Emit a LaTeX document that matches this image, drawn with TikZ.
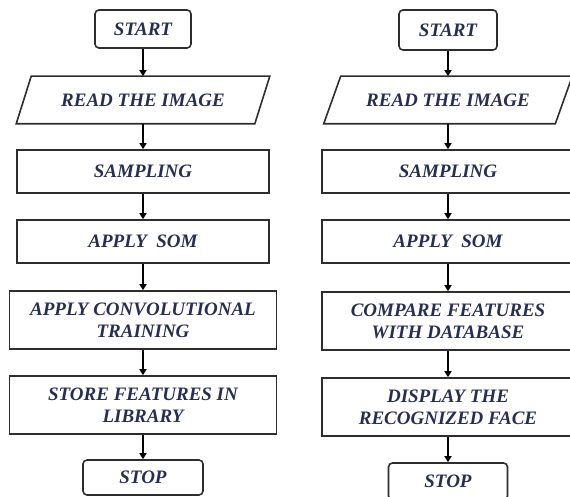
\documentclass[tikz,border=0pt]{standalone}
\usepackage{fontspec}
\setmainfont{Liberation Serif}
\usetikzlibrary{arrows.meta,calc}
\definecolor{txt}{RGB}{38,46,82}
\definecolor{ln}{RGB}{45,45,45}
\begin{document}
\begin{tikzpicture}[x=1pt,y=-1pt,
  box/.style={draw=ln, line width=1.6pt, text=txt,
    font=\fontsize{19}{22}\selectfont\bfseries\itshape, align=center, inner sep=0pt},
  term/.style={box, rounded corners=4pt},
  io/.style={box, draw=none},
  arr/.style={draw=black, line width=1.4pt, -{Triangle[length=6pt,width=7pt]}},
  para/.style={draw=ln, line width=1.6pt, line join=miter}]
\clip (0,0) rectangle (570,497);
% ---------- left column ----------
\node[term, minimum width=96, minimum height=38] (ls) at (143,29) {START};
\node[io, minimum width=237, minimum height=46] (lr) at (143,100) {READ THE IMAGE};
\draw[para] ($(lr.north west)+(7.5,0)$) -- ($(lr.north east)+(7.5,0)$)
  -- ($(lr.south east)+(-7.5,0)$) -- ($(lr.south west)+(-7.5,0)$) -- cycle;
\node[box, minimum width=252, minimum height=43] (lsa) at (143,171.5) {SAMPLING};
\node[box, minimum width=252, minimum height=43] (lso) at (143,241.5) {APPLY\ \ SOM};
\node[box, minimum width=267, minimum height=58] (lc) at (143,320) {APPLY CONVOLUTIONAL\\TRAINING};
\node[box, minimum width=267, minimum height=58] (lst) at (143,405) {STORE FEATURES IN\\LIBRARY};
\node[term, minimum width=120, minimum height=35] (le) at (143,477.5) {STOP};
\draw[arr] (ls) -- (lr);
\draw[arr] (lr) -- (lsa);
\draw[arr] (lsa) -- (lso);
\draw[arr] (lso) -- (lc);
\draw[arr] (lc) -- (lst);
\draw[arr] (lst) -- (le);
% ---------- right column ----------
\node[term, minimum width=98, minimum height=40] (rs) at (448,30) {START};
\node[io, minimum width=230, minimum height=46] (rr) at (448,100) {READ THE IMAGE};
\draw[para] ($(rr.north west)+(8.5,0)$) -- ($(rr.north east)+(8.5,0)$)
  -- ($(rr.south east)+(-8.5,0)$) -- ($(rr.south west)+(-8.5,0)$) -- cycle;
\node[box, minimum width=252, minimum height=43] (rsa) at (448,171.5) {SAMPLING};
\node[box, minimum width=252, minimum height=43] (rso) at (448,241.5) {APPLY\ \ SOM};
\node[box, minimum width=252, minimum height=58] (rc) at (448,321) {COMPARE FEATURES\\WITH DATABASE};
\node[box, minimum width=252, minimum height=58] (rd) at (448,407) {DISPLAY THE\\RECOGNIZED FACE};
\node[term, minimum width=119, minimum height=37] (re) at (448,481.5) {STOP};
\draw[arr] (rs) -- (rr);
\draw[arr] (rr) -- (rsa);
\draw[arr] (rsa) -- (rso);
\draw[arr] (rso) -- (rc);
\draw[arr] (rc) -- (rd);
\draw[arr] (rd) -- (re);
\end{tikzpicture}
\end{document}
